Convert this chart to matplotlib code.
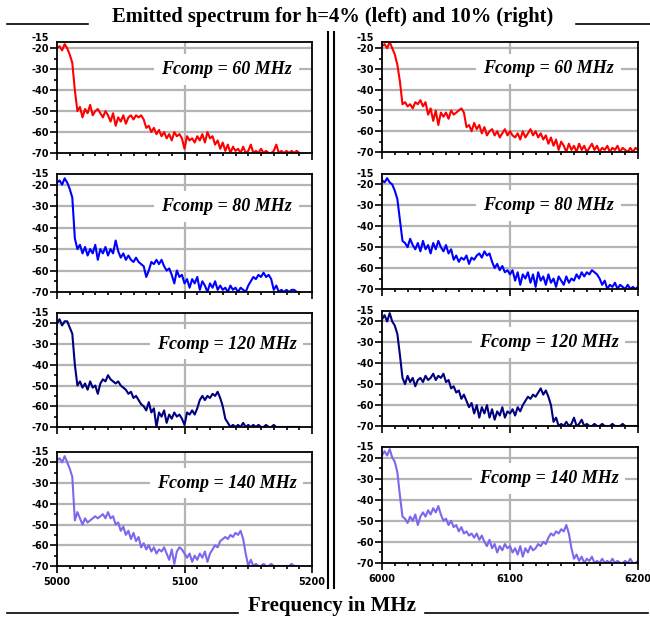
import numpy as np
import matplotlib
matplotlib.use("Agg")
import matplotlib.pyplot as plt
from matplotlib.ticker import MultipleLocator, FixedLocator

# frequency grids (MHz), 2 MHz step
freq_left = list(range(5000, 5191, 2))
freq_right = list(range(6000, 6201, 2))

fcomp = [60, 80, 120, 140]
colors = ['#ff0000', '#0000ff', '#000080', '#7b68ee']

# h = 4 %  (left column), dB
left_60 = [-20, -19, -21, -18, -20, -23, -27, -40, -50, -48, -53, -49, -51, -47, -52, -50,
           -49, -51, -53, -50, -52, -55, -51, -57, -53, -55, -52, -56, -53, -52, -54, -52,
           -53, -52, -54, -58, -57, -60, -58, -61, -59, -62, -60, -63, -61, -64, -60, -62,
           -61, -63, -68, -62, -64, -63, -65, -62, -64, -61, -65, -60, -63, -62, -66, -64,
           -68, -65, -69, -66, -70, -67, -69, -68, -70, -67, -70, -69, -66, -70, -69, -70,
           -68, -70, -69, -70, -70, -69, -66, -70, -69, -70, -69, -70, -69, -70, -69, -70]
left_80 = [-19, -18, -20, -17, -19, -22, -26, -45, -50, -48, -52, -49, -53, -50, -52, -48,
           -55, -50, -52, -49, -53, -50, -52, -46, -51, -54, -52, -55, -53, -55, -56, -54,
           -56, -57, -58, -63, -60, -56, -57, -55, -57, -55, -58, -60, -59, -62, -66, -60,
           -63, -62, -66, -64, -68, -64, -66, -63, -69, -65, -67, -70, -66, -68, -65, -69,
           -67, -69, -68, -70, -67, -69, -68, -70, -68, -69, -70, -67, -65, -63, -64, -62,
           -63, -61, -63, -62, -64, -69, -67, -70, -69, -70, -69, -70, -69, -69, -70, -70]
left_120 = [-20, -18, -21, -19, -19, -22, -25, -40, -50, -48, -51, -49, -52, -48, -51, -50,
            -54, -49, -47, -48, -45, -47, -48, -49, -48, -50, -51, -52, -54, -53, -56, -55,
            -57, -59, -60, -62, -58, -63, -61, -70, -63, -65, -62, -68, -64, -66, -63, -65,
            -64, -66, -69, -63, -64, -62, -64, -61, -57, -55, -57, -55, -56, -54, -55, -53,
            -56, -60, -66, -68, -70, -69, -70, -69, -70, -68, -70, -69, -70, -69, -70, -69,
            -70, -70, -69, -70, -70, -69, -70, -70, -70, -70, -70, -70, -70, -70, -70, -70]
left_140 = [-19, -18, -20, -17, -20, -23, -27, -48, -44, -47, -50, -47, -49, -48, -47, -46,
            -47, -46, -45, -47, -44, -47, -46, -50, -49, -53, -51, -55, -53, -57, -54, -58,
            -56, -61, -59, -62, -60, -63, -61, -64, -62, -63, -61, -64, -67, -62, -69, -63,
            -61, -62, -64, -66, -64, -68, -65, -67, -64, -66, -63, -68, -64, -62, -60, -61,
            -58, -57, -56, -57, -55, -56, -54, -55, -53, -57, -64, -70, -67, -70, -69, -70,
            -70, -69, -70, -70, -69, -70, -70, -70, -70, -70, -70, -70, -69, -70, -70, -70]

# h = 10 %  (right column), dB
right_60 = [-19, -18, -20, -17, -20, -23, -28, -36, -47, -46, -48, -47, -49, -46, -47, -45,
            -48, -46, -52, -49, -55, -50, -57, -51, -53, -51, -54, -50, -52, -51, -50, -49,
            -51, -58, -57, -60, -56, -59, -57, -61, -58, -62, -60, -59, -62, -60, -63, -61,
            -59, -62, -60, -62, -63, -61, -64, -60, -63, -61, -59, -62, -60, -63, -61, -64,
            -62, -66, -63, -67, -64, -69, -65, -67, -70, -66, -69, -67, -70, -66, -69, -67,
            -70, -68, -66, -69, -67, -70, -68, -69, -67, -70, -68, -69, -67, -70, -68, -69,
            -70, -68, -70, -68, -69]
right_80 = [-18, -19, -17, -19, -20, -23, -27, -37, -47, -48, -50, -46, -49, -51, -48, -52,
            -47, -51, -49, -53, -48, -51, -47, -50, -52, -49, -53, -51, -56, -54, -57, -55,
            -56, -54, -58, -55, -56, -54, -53, -55, -52, -54, -53, -57, -60, -58, -61, -59,
            -62, -61, -63, -61, -66, -62, -68, -63, -65, -62, -67, -63, -69, -62, -66, -64,
            -68, -63, -67, -65, -69, -64, -66, -68, -64, -67, -65, -66, -63, -65, -62, -64,
            -62, -63, -61, -62, -63, -65, -68, -66, -70, -68, -69, -67, -70, -68, -69, -70,
            -68, -70, -69, -70, -69]
right_120 = [-19, -17, -20, -16, -20, -22, -26, -36, -47, -50, -46, -49, -47, -51, -48, -47,
             -49, -46, -48, -47, -45, -48, -46, -47, -45, -49, -48, -52, -51, -54, -53, -57,
             -55, -58, -61, -59, -64, -60, -66, -61, -64, -60, -66, -62, -67, -63, -65, -61,
             -66, -63, -64, -62, -65, -61, -63, -60, -58, -56, -57, -55, -56, -54, -52, -55,
             -53, -56, -60, -68, -66, -70, -69, -70, -68, -70, -69, -66, -70, -69, -67, -70,
             -69, -70, -70, -69, -70, -70, -69, -70, -70, -70, -69, -70, -70, -70, -69, -70,
             -70, -70, -70, -70, -70]
right_140 = [-19, -17, -19, -16, -20, -22, -27, -38, -48, -49, -51, -48, -50, -47, -52, -48,
             -46, -48, -45, -47, -44, -46, -43, -47, -50, -49, -52, -50, -53, -52, -55, -53,
             -56, -55, -57, -56, -58, -56, -59, -57, -60, -62, -59, -63, -61, -65, -62, -64,
             -61, -63, -62, -65, -63, -66, -62, -67, -63, -65, -62, -64, -63, -61, -62, -60,
             -61, -58, -56, -57, -55, -56, -54, -55, -52, -56, -63, -68, -66, -69, -67, -70,
             -68, -69, -67, -70, -69, -70, -68, -70, -69, -70, -68, -70, -69, -70, -70, -69,
             -70, -68, -70, -70, -69]

left_series = [left_60, left_80, left_120, left_140]
right_series = [right_60, right_80, right_120, right_140]

W, H = 650, 617
fig = plt.figure(figsize=(W / 100, H / 100), dpi=100)

# panel boxes in pixels: (left, top, right, bottom)
left_boxes = [(57, 42, 312, 153), (57, 174, 312, 292), (57, 313, 312, 427), (57, 452, 312, 566)]
right_boxes = [(382, 42, 638, 152), (382, 174, 638, 289), (382, 311, 638, 426), (382, 447, 638, 563)]
ytops = [-17, -15, -15, -15]

tick_font = dict(family='DejaVu Sans', weight='bold', size=7)


def make_panel(box, freq, vals, color, label, x0, ytop, bottom, text_x):
    l, t, r, b = box
    ax = fig.add_axes([l / W, 1 - b / H, (r - l) / W, (b - t) / H])
    ax.plot(freq, vals, color=color, lw=1.5, zorder=3)
    ax.set_xlim(x0, x0 + 200)
    ax.set_ylim(-70, ytop)
    ax.yaxis.set_major_locator(FixedLocator([-70, -60, -50, -40, -30, -20]))
    ax.yaxis.set_minor_locator(FixedLocator([-65, -55, -45, -35, -25]))
    ax.xaxis.set_major_locator(MultipleLocator(100))
    ax.xaxis.set_minor_locator(MultipleLocator(10))
    ax.tick_params(axis='both', which='major', direction='out', length=5, width=1.2, pad=1)
    ax.tick_params(axis='both', which='minor', direction='out', length=2.5, width=1.2)
    ax.set_yticklabels(['-70', '-60', '-50', '-40', '-30', '-20'], fontdict=tick_font)
    if bottom:
        ax.set_xticks([x0, x0 + 100, x0 + 200])
        ax.set_xticklabels([str(x0), str(x0 + 100), str(x0 + 200)], fontdict=tick_font)
        ax.tick_params(axis='x', which='major', pad=3)
    else:
        ax.set_xticklabels([])
    for y in [-60, -50, -40, -30, -20]:
        ax.axhline(y, color='#b4b4b4', lw=1.6, zorder=1)
    ax.axvline(x0 + 100, color='#b4b4b4', lw=1.6, zorder=1)
    for s in ax.spines.values():
        s.set_linewidth(1.3)
        s.set_zorder(4)
    ax.annotate('-15', xy=(0, -15), xycoords=('axes fraction', 'data'),
                xytext=(-6, 0), textcoords='offset points', ha='right', va='center',
                annotation_clip=False, fontfamily='DejaVu Sans', fontweight='bold', fontsize=7)
    ax.text(text_x, -30, 'Fcomp = %d MHz' % label, transform=ax.get_yaxis_transform(),
            ha='center', va='center', family='Liberation Serif', style='italic',
            weight='bold', fontsize=13, zorder=2,
            bbox=dict(facecolor='white', edgecolor='none', pad=5))
    return ax


for i in range(4):
    make_panel(left_boxes[i], freq_left, left_series[i], colors[i], fcomp[i],
               5000, ytops[i], i == 3, 0.665)
    make_panel(right_boxes[i], freq_right, right_series[i], colors[i], fcomp[i],
               6000, ytops[i], i == 3, 0.65)

fig.text(333 / W, 1 - 17 / H, 'Emitted spectrum for h=4% (left) and 10% (right)',
         ha='center', va='center', family='Liberation Serif', weight='bold', fontsize=14.8)
fig.text(332 / W, 1 - 606 / H, 'Frequency in MHz', ha='center', va='center',
         family='Liberation Serif', weight='bold', fontsize=15)


def hline(x1, x2, y):
    fig.add_artist(plt.Line2D([x1 / W, x2 / W], [1 - y / H, 1 - y / H], color='black', lw=1.2))


def vline(x, y1, y2):
    fig.add_artist(plt.Line2D([x / W, x / W], [1 - y1 / H, 1 - y2 / H], color='black', lw=1.5))


hline(7, 88, 24)
hline(576, 650, 24)
hline(7, 238, 613)
hline(425, 648, 613)
vline(328, 32, 588)
vline(334, 32, 588)

fig.savefig('out.png', dpi=100, facecolor='white')
